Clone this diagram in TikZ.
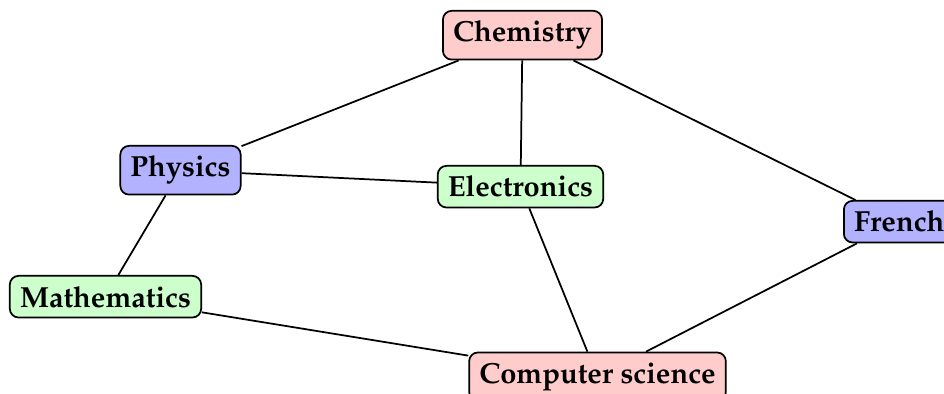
\documentclass[tikz,border=0pt]{standalone}
\usepackage[T1]{fontenc}
\usepackage{mathpazo}
\usetikzlibrary{positioning}

\begin{document}
\begin{tikzpicture}[
    % GLOBAL CFG
    x=0.0121cm, y=-0.0121cm,
    font=\bfseries,
    % Styles
    subject/.style={% For the subject boxes
        rectangle,
        rounded corners=3pt,
        draw,
        semithick,
        inner sep=3.5pt,
        anchor=base,
        },
    science/.style={subject, fill=red!20},
    physical/.style={subject, fill=blue!30},
    applied/.style={subject, fill=green!20},
    link/.style={% For the connections
        semithick,
        },
    ]

    \useasboundingbox (0,0) rectangle (944,394);

    % Draw the subjects
    \node [science] (chem) at (522.5,42) {Chemistry};
    \node [physical] (phys) at (180.5,177) {Physics};
    \node [applied] (elec) at (520.5,197) {Electronics};
    \node [physical, anchor=base west] (french) at (843,232) {French};
    \node [applied] (math) at (105.5,307) {Mathematics};
    \node [science] (cs) at (597.5,383) {Computer science};

    % Connect them
    \draw [link] (chem) -- (phys);
    \draw [link] (chem) -- (elec);
    \draw [link] (chem) -- (french);
    \draw [link] (phys) -- (elec);
    \draw [link] (phys) -- (math);
    \draw [link] (math) -- (cs);
    \draw [link] (elec) -- (cs);
    \draw [link] (french) -- (cs);

\end{tikzpicture}
\end{document}
